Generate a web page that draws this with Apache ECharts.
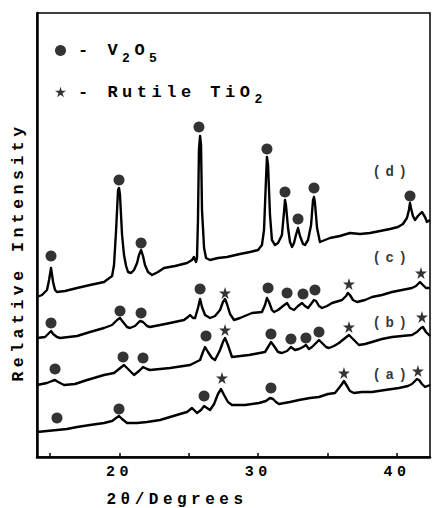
<!DOCTYPE html>
<html>
<head>
<meta charset="utf-8">
<script src="https://cdn.jsdelivr.net/npm/echarts@6/dist/echarts.min.js"></script>
<style>
  html, body { margin: 0; padding: 0; background: #fff; }
  /* the typewriter lettering of the figure is widely spaced */
  #chart { width: 432px; height: 508px; letter-spacing: 4.5px; }
</style>
</head>
<body>
<div id="chart"></div>
<script>
// XRD patterns, [2theta, intensity] (intensity in arbitrary units, curves offset)
const patternA = [[14.06,25],[14.78,26],[15.50,27],[16.22,28],[16.95,30],[17.88,32],[18.89,34],[19.47,36],[19.76,39],[19.97,41],[20.19,38],[20.55,34],[21.27,34],[21.99,35],[22.93,37],[23.65,40],[24.37,43],[24.87,45],[25.23,49],[25.59,44],[25.88,47],[26.10,51],[26.31,49],[26.53,47],[26.82,53],[27.10,63],[27.32,68],[27.54,62],[27.82,55],[28.11,52],[29.05,52],[30.06,54],[30.56,56],[30.85,59],[31.07,58],[31.28,55],[31.50,53],[32.29,55],[32.94,57],[33.73,59],[34.38,60],[35.03,63],[35.53,64],[35.82,69],[36.04,73],[36.18,76],[36.40,71],[36.61,66],[36.90,64],[37.48,65],[38.20,65],[39.14,67],[40.14,69],[40.79,71],[41.08,73],[41.30,76],[41.44,78],[41.59,77],[41.80,73],[42.02,70],[42.38,72]];
const patternB = [[14.06,72],[14.78,74],[15.14,76],[15.36,77],[15.58,75],[16.01,72],[16.80,73],[17.67,77],[18.89,82],[19.61,84],[19.97,88],[20.33,92],[20.62,88],[21.05,82],[21.41,86],[21.70,90],[21.99,88],[22.20,87],[23.65,89],[25.09,92],[25.81,97],[26.02,105],[26.17,110],[26.38,105],[26.67,99],[26.89,97],[27.25,107],[27.46,115],[27.61,119],[27.82,112],[28.11,100],[29.34,102],[30.49,105],[30.71,110],[30.92,115],[31.14,111],[31.43,105],[31.71,104],[32.08,106],[32.36,110],[32.65,107],[32.94,108],[33.23,110],[33.44,112],[33.66,108],[33.88,110],[34.17,114],[34.38,117],[34.60,114],[34.89,110],[35.10,109],[35.46,111],[35.82,114],[36.18,118],[36.54,122],[36.90,117],[37.26,112],[37.70,113],[38.20,115],[38.92,118],[39.64,120],[40.36,121],[41.08,122],[41.44,125],[41.73,129],[41.87,130],[42.09,125],[42.38,121]];
const patternC = [[14.06,119],[14.64,120],[14.93,124],[15.07,126],[15.22,123],[15.50,120],[15.72,119],[16.95,121],[17.88,125],[18.89,129],[19.47,132],[19.83,137],[20.04,139],[20.26,135],[20.55,130],[20.76,129],[21.12,131],[21.48,136],[21.70,135],[21.99,131],[22.20,130],[22.93,132],[23.65,134],[24.65,137],[24.94,140],[25.09,142],[25.30,139],[25.45,139],[25.66,149],[25.81,158],[25.95,150],[26.17,142],[26.53,139],[26.89,141],[27.25,147],[27.46,155],[27.61,158],[27.75,153],[27.97,143],[28.26,137],[28.69,139],[29.55,144],[30.27,145],[30.49,152],[30.63,159],[30.78,155],[30.99,147],[31.14,145],[31.43,147],[31.79,151],[32.08,154],[32.29,149],[32.58,147],[32.87,151],[33.16,154],[33.37,151],[33.59,149],[33.81,153],[34.02,157],[34.17,156],[34.38,151],[34.60,149],[34.96,151],[35.32,154],[36.04,157],[36.33,161],[36.47,164],[36.61,162],[36.83,157],[37.12,155],[37.70,157],[38.20,160],[38.92,162],[39.64,165],[40.36,167],[41.08,169],[41.37,171],[41.66,175],[41.87,172],[42.09,169],[42.38,169]];
const patternD = [[14.06,160],[14.42,162],[14.78,167],[14.93,177],[15.07,189],[15.22,175],[15.36,167],[15.50,165],[16.08,166],[16.95,169],[17.88,172],[18.89,175],[19.47,181],[19.61,192],[19.76,227],[19.90,267],[19.97,269],[20.04,262],[20.19,222],[20.33,202],[20.48,191],[20.62,185],[20.84,184],[21.05,187],[21.27,194],[21.41,202],[21.56,207],[21.70,201],[21.84,192],[22.06,185],[22.35,182],[22.78,185],[23.21,189],[24.01,191],[24.87,194],[25.23,197],[25.37,200],[25.52,195],[25.59,199],[25.66,237],[25.73,307],[25.81,321],[25.88,312],[25.95,247],[26.10,209],[26.24,199],[26.53,197],[27.10,199],[27.75,200],[28.69,203],[29.41,205],[29.99,207],[30.27,212],[30.42,227],[30.56,277],[30.63,300],[30.71,292],[30.85,242],[30.99,217],[31.21,212],[31.43,214],[31.71,222],[31.86,245],[31.93,257],[32.00,252],[32.15,229],[32.29,215],[32.44,210],[32.58,214],[32.72,222],[32.87,229],[33.01,221],[33.23,213],[33.37,212],[33.59,217],[33.81,232],[33.95,257],[34.02,260],[34.09,254],[34.24,229],[34.45,215],[34.81,217],[35.17,219],[35.89,221],[36.61,224],[37.34,223],[38.05,224],[38.78,226],[39.50,228],[40.07,230],[40.43,233],[40.72,239],[40.86,247],[40.94,254],[41.01,249],[41.15,241],[41.30,237],[41.51,241],[41.80,245],[42.02,240],[42.16,235],[42.38,237]];

// peak markers
const v2o5Peaks = [
  [15.07,201],[19.97,277],[21.56,214],[25.73,330],[30.63,308],[31.93,265],[32.87,238],[34.02,269],[40.94,261],
  [15.07,134],[20.04,146],[21.56,144],[25.81,168],[30.71,169],[32.08,164],[33.23,163],[34.09,167],
  [15.36,88],[20.26,100],[21.70,99],[26.24,121],[30.92,123],[32.36,118],[33.44,119],[34.38,125],
  [15.50,39],[19.97,48],[26.10,61],[30.92,69]
];
const rutilePeaks = [
  [27.61,164],[36.54,173],[41.73,184],
  [27.61,127],[36.54,130],[41.80,140],
  [27.39,79],[36.18,84],[41.51,86]
];

const curveNames = ['(d)', '(c)', '(b)', '(a)'];
const curveLabelPos = [[39.64,285],[39.64,199],[39.64,134],[39.64,82]];

const xTickValues = [15, 20, 25, 30, 35, 40];
const xLabelValues = [20, 30, 40];

const FONT = '"Liberation Mono", "DejaVu Sans Mono", monospace';
const starPath = 'path://M50,0 L61,35 L98,35 L68,57 L79,91 L50,70 L21,91 L32,57 L2,35 L39,35 Z';

let chart = echarts.init(document.getElementById('chart'), null, { renderer: 'svg' });

function lineSeries(name, data) {
  return {
    name: name,
    type: 'line',
    data: data,
    symbol: 'none',
    silent: true,
    lineStyle: { color: '#000', width: 2.4, join: 'round' },
    z: 2
  };
}

let option = {
  animation: false,
  backgroundColor: '#fff',
  textStyle: { fontFamily: FONT, fontWeight: 'bold', color: '#000' },
  grid: { left: 37, right: 2, top: 13, bottom: 51, show: true, borderColor: '#000', borderWidth: 1.5 },
  legend: {
    orient: 'vertical',
    left: 55,
    top: 42,
    padding: 0,
    itemWidth: 11,
    itemHeight: 11,
    itemGap: 19,
    selectedMode: false,
    data: ['V2O5', 'Rutile TiO2'],
    formatter: function (name) {
      if (name === 'V2O5') return '{a3|- V}{s|2}{a1|O}{s|5}';
      return '{a12|- Rutile TiO}{s|2}';
    },
    textStyle: {
      fontFamily: FONT,
      fontWeight: 'bold',
      color: '#000',
      rich: {
        a3: { fontSize: 17, fontWeight: 'bold', fontFamily: FONT, lineHeight: 28, padding: [0, 13.5, 0, 7] },
        a1: { fontSize: 17, fontWeight: 'bold', fontFamily: FONT, lineHeight: 28, padding: [0, 4.5, 0, 0] },
        a12: { fontSize: 17, fontWeight: 'bold', fontFamily: FONT, lineHeight: 28, padding: [0, 54, 0, 7] },
        s: { fontSize: 13, fontWeight: 'bold', fontFamily: FONT, lineHeight: 12, verticalAlign: 'bottom', padding: [0, 4.5, 0, 0] }
      }
    }
  },
  xAxis: {
    type: 'value',
    min: 14.06,
    max: 42.38,
    axisLine: { lineStyle: { color: '#000', width: 2.5 } },
    axisTick: { show: true, inside: true, length: 4, customValues: xTickValues, lineStyle: { color: '#000', width: 1.5 } },
    axisLabel: { customValues: xLabelValues, color: '#000', fontSize: 15, fontWeight: 'bold', fontFamily: FONT, margin: 8 },
    splitLine: { show: false }
  },
  yAxis: {
    type: 'value',
    min: 0,
    max: 444,
    axisLine: { show: true, lineStyle: { color: '#000', width: 2.5 } },
    axisTick: { show: false },
    axisLabel: { show: false },
    splitLine: { show: false }
  },
  graphic: [
    {
      type: 'text', x: 177, y: 500,
      style: { text: '2θ/Degrees', font: 'bold 16px ' + FONT, fill: '#000', textAlign: 'center', textVerticalAlign: 'middle' }
    },
    {
      type: 'text', x: 18, y: 252, rotation: Math.PI / 2,
      style: { text: 'Relative Intensity', font: 'bold 16.5px ' + FONT, fill: '#000', textAlign: 'center', textVerticalAlign: 'middle' }
    }
  ],
  series: [
    lineSeries('a', patternA),
    lineSeries('b', patternB),
    lineSeries('c', patternC),
    lineSeries('d', patternD),
    {
      name: 'V2O5',
      type: 'scatter',
      data: v2o5Peaks,
      symbol: 'circle',
      symbolSize: 11,
      itemStyle: { color: '#000' },
      silent: true,
      z: 3
    },
    {
      name: 'Rutile TiO2',
      type: 'scatter',
      data: rutilePeaks,
      symbol: starPath,
      symbolSize: 12,
      itemStyle: { color: '#000' },
      silent: true,
      z: 3
    },
    {
      name: 'labels',
      type: 'scatter',
      data: curveLabelPos.map((p, i) => ({ name: curveNames[i], value: p })),
      symbolSize: 0,
      silent: true,
      label: {
        show: true,
        position: 'inside',
        formatter: '{b}',
        color: '#000',
        fontSize: 14,
        fontWeight: 'bold',
        fontFamily: FONT
      }
    }
  ]
};

chart.setOption(option);
</script>
</body>
</html>
